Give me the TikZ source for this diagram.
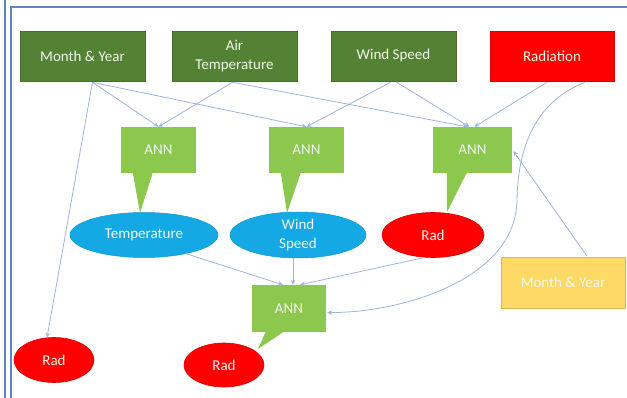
\documentclass[tikz,border=0pt]{standalone}
\usepackage{fontspec}
\setmainfont{Carlito}
\usetikzlibrary{shapes.geometric,calc,arrows.meta}
\definecolor{dkgreen}{HTML}{548235}
\definecolor{ltgreen}{HTML}{8CC74E}
\definecolor{skyblue}{HTML}{14A9E4}
\definecolor{radred}{HTML}{FF0000}
\definecolor{ylw}{HTML}{FFD966}
\definecolor{conn}{HTML}{9FB5DD}
\definecolor{framec}{HTML}{5A86C5}
\definecolor{softwhite}{HTML}{F2F7EC}
\begin{document}
\begin{tikzpicture}[x=1pt,y=-1pt,
  every node/.style={font=\fontsize{15}{19}\selectfont, text=softwhite, align=center, inner sep=0pt},
  topbox/.style={rectangle, fill=dkgreen, draw=dkgreen!85!black, line width=0.6pt, minimum width=125pt, minimum height=50pt},
  redbox/.style={rectangle, fill=radred, draw=radred!85!black, line width=0.6pt, minimum width=124pt, minimum height=50pt},
  annbox/.style={rectangle, fill=ltgreen, minimum width=75pt, minimum height=46pt},
  blueell/.style={ellipse, fill=skyblue, draw=skyblue!90!black, line width=0.5pt},
  redell/.style={ellipse, fill=radred, draw=radred!85!black, line width=0.6pt},
  ylwbox/.style={rectangle, fill=ylw, draw=ylw!85!black, line width=0.6pt, minimum width=124pt, minimum height=51pt},
  conn/.style={draw=conn, line width=0.8pt, -{Stealth[length=5pt,width=4.5pt]}},
  framel/.style={draw=framec, line width=1.6pt}
]
\useasboundingbox (0,0) rectangle (627,398);
\fill[white] (0,0) rectangle (627,398);
% page frame
\coordinate (fa) at (5,0);
\coordinate (fb) at (5,398);
\coordinate (fc) at (11,398);
\coordinate (fd) at (11,7);
\coordinate (fe) at (627,7);
\draw[framel] (fa) -- (fb);
\draw[framel] (fc) -- (fd) -- (fe);

% top row
\node[topbox] (my) at (82.5,56) {Month \& Year};
\node[topbox] (at) at (234.5,56) {Air\\Temperature};
\node[topbox] (ws) at (393.5,56) {Wind Speed};
\node[redbox] (rad) at (552,56) {Radiation};

% ANN callouts
\node[annbox] (ann1) at (158.5,150) {ANN};
\node[annbox] (ann2) at (306.5,150) {ANN};
\node[annbox, minimum width=79pt] (ann3) at (472.5,150) {ANN};
\node[annbox, minimum width=74pt, minimum height=47pt] (ann4) at (289,308.5) {ANN};
\coordinate (t1) at (140,213);
\coordinate (t2) at (287,213);
\coordinate (t3) at (447,212);
\coordinate (t4) at (258,349);
\fill[ltgreen] ($(ann1.south west)+(12,-0.5)$) -- (t1) -- ($(ann1.south west)+(32,-0.5)$) -- cycle;
\fill[ltgreen] ($(ann2.south west)+(12,-0.5)$) -- (t2) -- ($(ann2.south west)+(32,-0.5)$) -- cycle;
\fill[ltgreen] ($(ann3.south west)+(14,-0.5)$) -- (t3) -- ($(ann3.south west)+(34,-0.5)$) -- cycle;
\fill[ltgreen] ($(ann4.south west)+(14,-0.5)$) -- (t4) -- ($(ann4.south west)+(32,-0.5)$) -- cycle;

% ellipses
\node[blueell, minimum width=148pt, minimum height=45pt] (temp) at (144,235) {Temperature};
\node[blueell, minimum width=136pt, minimum height=46pt] (wsp) at (298,235) {Wind\\Speed};
\node[redell, minimum width=102pt, minimum height=45pt] (rad1) at (433,235) {Rad};
\node[redell, minimum width=80pt, minimum height=45pt] (radbl) at (54,360) {Rad};
\node[redell, minimum width=80pt, minimum height=44pt] (radbm) at (224,365) {Rad};
\node[ylwbox] (my2) at (563,282.5) {Month \& Year};

% connectors
\draw[conn] ($(my.south)+(10,1)$) -- (ann1.north);
\draw[conn] ($(my.south)+(10,1)$) -- (ann2.north);
\draw[conn] ($(my.south)+(10,1)$) -- ($(radbl.north)+(-7,0.5)$);
\draw[conn] ($(at.south)+(-2,1)$) -- (ann1.north);
\draw[conn] ($(at.south)+(-2,1)$) -- ($(ann3.north)+(-5,0)$);
\draw[conn] ($(ws.south)+(-3,1)$) -- (ann2.north);
\draw[conn] ($(ws.south)+(3,1)$) -- ($(ann3.north)+(-3,0)$);
\draw[conn] ($(rad.south)+(-5,1)$) -- ($(ann3.north)+(2,0)$);
\draw[conn] ($(rad.south)+(33,1)$) .. controls (540,100) and (518,140) .. (517,200)
  .. controls (516,280) and (400,313) .. ($(ann4.east)+(1,4)$);
\draw[conn] ($(my2.north)+(24,-0.5)$) -- ($(ann3.east)+(1,1)$);
\draw[conn] (temp.-24) -- ($(ann4.north)+(-6,0)$);
\draw[conn] ($(wsp.south)+(-5,0)$) -- ($(ann4.north)+(4,0)$);
\draw[conn] ($(rad1.south)+(-10,0)$) -- ($(ann4.north)+(11,0)$);
\end{tikzpicture}
\end{document}
